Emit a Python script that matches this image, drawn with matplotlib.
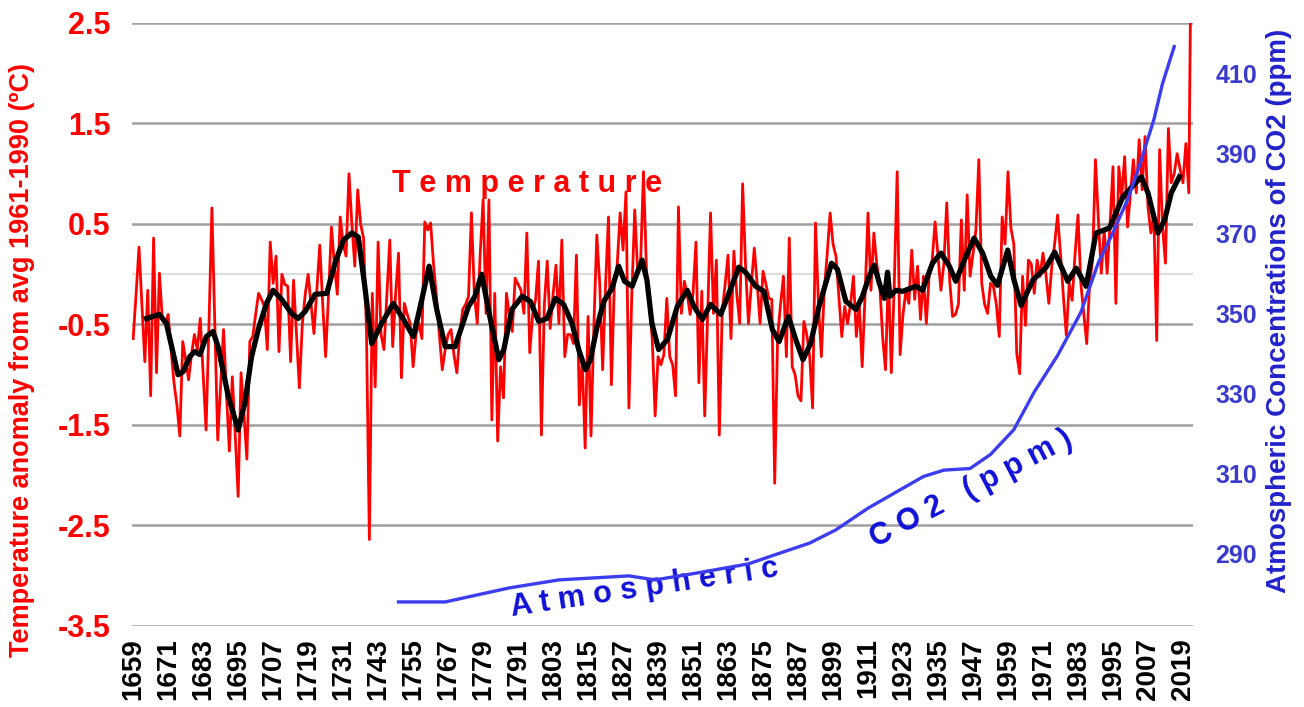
import numpy as np
import matplotlib
matplotlib.use("Agg")
import matplotlib.pyplot as plt

# annual temperature anomaly (deg C, vs 1961-1990), 1659 .. 2022
temp_start = 1659
temp_anom = [
    -0.64, -0.20, 0.27, -0.30, -0.87, -0.16, -1.21, 0.36, -0.98, 0.01,
    -0.45, -0.50, -0.40, -0.75, -1.08, -1.30, -1.61, -0.67, -0.85, -1.05,
    -0.80, -0.60, -0.75, -0.44, -1.00, -1.55, -0.50, 0.66, -0.50, -1.65,
    -1.10, -0.55, -1.20, -1.76, -1.02, -1.60, -2.21, -0.98, -1.40, -1.84,
    -0.67, -0.62, -0.40, -0.19, -0.25, -0.32, -0.75, 0.32, -0.09, 0.18,
    -0.77, 0.00, -0.10, -0.12, -0.87, -0.06, -0.60, -1.13, -0.50, -0.20,
    0.00, -0.30, -0.59, -0.15, 0.29, -0.30, -0.82, -0.20, 0.47, 0.10,
    -0.20, 0.57, 0.30, 0.18, 1.00, 0.50, 0.08, 0.84, 0.50, 0.36,
    -0.55, -2.64, -0.19, -1.12, 0.32, -0.60, -0.75, -0.20, 0.34, -0.72,
    -0.20, 0.21, -1.03, -0.29, -0.40, -0.49, -0.92, -0.60, -0.49, -0.64,
    0.52, 0.44, 0.51, 0.10, -0.22, -0.60, -0.95, -0.75, -0.60, -0.55,
    -0.80, -0.98, -0.60, -0.35, -0.30, -0.22, 0.61, -0.20, -0.49, 0.20,
    0.74, -0.39, 0.74, -1.45, -0.19, -1.66, -0.92, -1.23, -0.19, -0.40,
    -0.57, -0.04, -0.10, -0.16, -0.39, 0.41, -0.78, -0.40, -0.25, 0.13,
    -1.60, -0.30, 0.13, -0.54, -0.20, 0.09, -0.49, 0.34, -0.82, -0.60,
    -0.60, -0.69, 0.19, -1.30, -0.85, -1.73, -0.42, -1.61, -0.50, 0.39,
    -0.10, -0.95, -0.10, 0.57, -1.10, -0.11, 0.10, 0.61, 0.24, 0.82,
    -1.33, -0.20, 0.64, 0.03, 0.10, 1.02, 0.06, -0.30, -0.64, -1.41,
    -0.82, -0.90, -0.80, -0.24, -0.82, -0.90, -1.21, 0.67, -0.39, -0.07,
    -0.20, -0.40, -0.19, 0.32, -1.08, -0.17, -1.41, -0.40, 0.61, -0.39,
    0.14, -1.60, -0.37, -0.10, 0.19, -0.64, 0.23, -0.20, -0.49, 0.90,
    0.08, -0.49, -0.10, 0.26, -0.10, -0.49, 0.03, -0.10, -0.24, -0.25,
    -2.08, -0.62, -0.30, -0.02, -0.82, 0.36, -0.92, -1.00, -1.21, -1.26,
    -0.47, -0.60, -0.82, -1.33, 0.51, -0.30, -0.82, -0.16, 0.20, 0.61,
    0.30, 0.18, -0.22, -0.62, -0.32, -0.49, -0.30, -0.02, -0.62, -0.30,
    -0.92, -0.19, 0.61, -0.16, 0.41, 0.10, -0.09, -0.62, -0.95, 0.02,
    -0.98, -0.10, 1.02, -0.80, -0.40, -0.16, -0.29, 0.24, -0.25, 0.08,
    -0.45, -0.02, -0.49, 0.00, 0.14, 0.52, 0.18, -0.16, 0.10, 0.71,
    -0.06, -0.42, -0.40, -0.30, 0.54, -0.16, 0.79, -0.02, 0.20, 0.44,
    1.14, -0.09, -0.30, -0.39, -0.09, -0.12, -0.30, -0.62, 0.57, 0.30,
    1.02, 0.46, 0.30, -0.79, -0.99, -0.02, -0.51, 0.14, 0.10, -0.19,
    0.14, -0.02, 0.21, 0.00, -0.29, 0.07, 0.30, 0.59, 0.21, -0.22,
    -0.61, -0.09, -0.26, 0.20, 0.59, -0.10, -0.39, -0.69, -0.09, 0.14,
    1.14, 0.54, 0.01, 0.44, 0.01, 0.50, 1.07, -0.29, 1.07, 0.77,
    1.17, 0.47, 0.80, 1.14, 0.81, 1.34, 0.84, 1.37, 0.67, 0.41,
    0.60, -0.66, 1.24, 0.47, 0.11, 1.45, 0.91, 1.00, 1.20, 1.05,
    0.91, 1.30, 0.81, 4.00,
]
temp_years = np.arange(temp_start, temp_start + len(temp_anom))

# smoothed temperature (black line)
ma_years = [1663.6, 1668.0, 1670.4, 1674.4, 1676.1, 1678.4, 1680.1, 1681.9, 1684.1, 1686.4,
            1688.1, 1691.6, 1695.0, 1697.3, 1699.6, 1701.9, 1704.7, 1707.0, 1709.9, 1713.3,
            1715.6, 1718.0, 1721.4, 1725.4, 1728.2, 1731.1, 1734.0, 1736.2, 1738.3, 1740.8,
            1744.2, 1748.2, 1751.7, 1755.1, 1758.0, 1760.5, 1763.1, 1766.0, 1769.4, 1771.7,
            1774.0, 1776.2, 1778.5, 1781.5, 1784.4, 1786.1, 1788.9, 1792.4, 1795.2, 1798.1,
            1800.9, 1803.8, 1806.6, 1809.5, 1811.8, 1814.1, 1815.8, 1818.1, 1820.4, 1823.2,
            1825.5, 1827.5, 1830.1, 1833.5, 1835.2, 1836.9, 1839.2, 1842.2, 1845.6, 1849.0,
            1851.3, 1854.2, 1857.0, 1860.5, 1863.3, 1866.7, 1869.0, 1872.5, 1875.3, 1878.2,
            1880.5, 1883.7, 1886.2, 1888.7, 1891.3, 1894.2, 1896.5, 1898.5, 1900.5, 1903.4,
            1906.9, 1909.1, 1911.4, 1913.1, 1914.9, 1916.6, 1917.7, 1918.5, 1920.6, 1922.9,
            1927.4, 1929.7, 1933.1, 1936.0, 1938.9, 1941.1, 1944.6, 1947.4, 1950.3, 1953.1,
            1955.4, 1958.9, 1961.0, 1963.5, 1967.5, 1972.1, 1975.0, 1979.5, 1982.4, 1985.8,
            1989.2, 1993.8, 1998.4, 2004.7, 2007.0, 2010.4, 2012.7, 2015.0, 2017.8]
ma_values = [-0.44, -0.40, -0.49, -1.00, -0.97, -0.82, -0.77, -0.80, -0.62, -0.57,
             -0.72, -1.21, -1.55, -1.28, -0.82, -0.55, -0.29, -0.16, -0.25, -0.39,
             -0.44, -0.37, -0.20, -0.19, 0.11, 0.34, 0.41, 0.37, -0.09, -0.69,
             -0.49, -0.29, -0.45, -0.62, -0.25, 0.08, -0.35, -0.72, -0.72, -0.52,
             -0.32, -0.22, 0.00, -0.45, -0.85, -0.75, -0.35, -0.22, -0.27, -0.47,
             -0.44, -0.24, -0.30, -0.49, -0.75, -0.95, -0.85, -0.52, -0.27, -0.14,
             0.08, -0.07, -0.12, 0.14, -0.06, -0.49, -0.75, -0.65, -0.32, -0.16,
             -0.32, -0.45, -0.30, -0.40, -0.19, 0.07, 0.02, -0.12, -0.17, -0.55,
             -0.67, -0.42, -0.65, -0.85, -0.69, -0.32, -0.09, 0.11, 0.05, -0.27,
             -0.35, -0.22, -0.02, 0.09, -0.09, -0.24, 0.02, -0.22, -0.16, -0.17,
             -0.12, -0.16, 0.11, 0.21, 0.08, -0.07, 0.18, 0.36, 0.21, -0.02,
             -0.11, 0.24, -0.05, -0.31, -0.06, 0.07, 0.22, -0.07, 0.06, -0.12,
             0.41, 0.46, 0.77, 0.97, 0.81, 0.41, 0.54, 0.81, 0.97]

# atmospheric CO2 (ppm)
co2_years = [1750, 1766, 1788, 1805, 1829, 1838, 1853, 1870, 1878, 1891,
             1900, 1911, 1923, 1930, 1937, 1946, 1953, 1961, 1968, 1976,
             1984, 1990, 1995, 2000, 2004, 2009, 2012, 2016]
co2_ppm = [278.0, 278.0, 281.5, 283.5, 284.5, 283.5, 285.3, 287.5, 289.5, 292.7,
           296.0, 301.4, 306.4, 309.3, 310.9, 311.3, 314.8, 321.0, 330.4, 339.5,
           350.3, 362.7, 370.2, 378.4, 386.7, 398.3, 407.4, 416.6]

left_ticks = [-3.5, -2.5, -1.5, -0.5, 0.5, 1.5, 2.5]
right_ticks = [290, 310, 330, 350, 370, 390, 410]
year_ticks = list(range(1659, 2020, 12))

RED = '#ff0000'
BLUE_LINE = '#3c3cf0'
BLUE_TXT = '#3a3acc'
BLUE_ANN = '#1010d8'
bold = ['Liberation Sans', 'DejaVu Sans']
narrow = ['Liberation Sans Narrow', 'Liberation Sans', 'DejaVu Sans']

fig = plt.figure(figsize=(13.04, 7.07), dpi=100)
ax = fig.add_axes([0.101, 0.1146, 0.814, 0.8529])

for v in left_ticks:
    ax.axhline(v, color='#a0a0a0', lw=1.8, zorder=0)
ax.axhline(0.0, color='#dcdcdc', lw=1.5, zorder=0)

ax.plot(temp_years, temp_anom, color=RED, lw=2.0, zorder=2)
ax.plot(ma_years, ma_values, color='black', lw=3.8, zorder=3, solid_joinstyle='round')

ax.set_xlim(1658.5, 2022.5)
ax.set_ylim(-3.5, 2.5)
for s in ax.spines.values():
    s.set_visible(False)
ax.set_yticks(left_ticks)
ax.set_yticklabels(['%.1f' % t for t in left_ticks], color=RED, fontsize=22,
                   fontweight='bold', family=bold)
ax.set_xticks(year_ticks)
ax.set_xticklabels([str(y) for y in year_ticks], rotation=90, fontsize=20,
                   fontweight='bold', family=bold, va='top')
ax.tick_params(axis='both', length=0)
ax.tick_params(axis='y', pad=15)
ax.tick_params(axis='x', pad=9)

ax.text(1794, 0.9, 'T e m p e r a t u r e', color=RED, fontsize=22,
        fontweight='bold', family=bold, ha='center', va='center')

ax2 = ax.twinx()
ax2.plot(co2_years, co2_ppm, color=BLUE_LINE, lw=2.4, zorder=4)
ax2.set_ylim(272, 422.5)
for s in ax2.spines.values():
    s.set_visible(False)
ax2.set_yticks(right_ticks)
ax2.set_yticklabels([str(t) for t in right_ticks], color=BLUE_TXT, fontsize=18,
                    fontweight='bold', family=narrow)
ax2.tick_params(axis='y', length=0, pad=16)

ax2.text(1834.5, 281.4, 'A t m o s p h e r i c', color=BLUE_ANN, fontsize=22,
         fontweight='bold', family=bold, ha='center', va='center',
         rotation=8.5, rotation_mode='anchor')
ax2.text(1946.5, 306.2, 'C O 2   ( p p m )', color=BLUE_ANN, fontsize=22,
         fontweight='bold', family=bold, ha='center', va='center',
         rotation=27.5, rotation_mode='anchor')

fig.text(22 / 1304, 1 - 360 / 707, 'Temperature anomaly from avg 1961-1990 (ºC)',
         rotation=90, color=RED, fontsize=19.5, fontweight='bold', family=bold,
         ha='center', va='center')
fig.text(1279 / 1304, 1 - 311 / 707, 'Atmospheric Concentrations of CO2 (ppm)',
         rotation=90, color='#2222cc', fontsize=20, fontweight='bold', family=narrow,
         ha='center', va='center')

fig.savefig('out.png', dpi=100)
